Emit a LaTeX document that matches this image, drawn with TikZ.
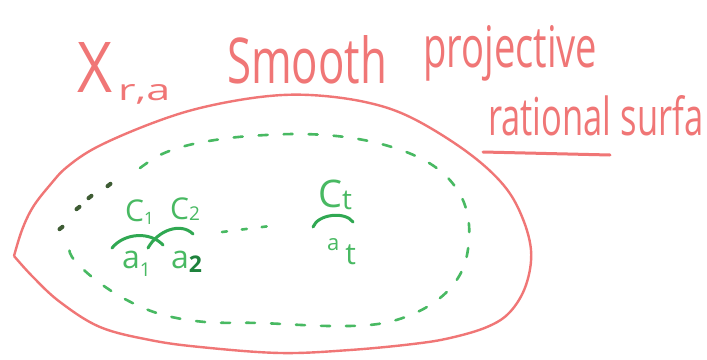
\documentclass[tikz,border=0pt]{standalone}
\usepackage{fontspec}
\usepackage{graphicx}
\setmainfont{Open Sans}
\definecolor{penred}{RGB}{240,118,118}
\definecolor{pengreen}{RGB}{72,185,98}
\definecolor{arcgreen}{RGB}{48,168,82}
\definecolor{darkdot}{RGB}{62,92,52}
\definecolor{darksub}{RGB}{30,130,60}
\newcommand{\hsub}[3]{\raisebox{#1}{\fontsize{#2}{#2}\selectfont #3}}
\begin{document}
\begin{tikzpicture}[x=1pt,y=-1pt,
  redtext/.style={text=penred,inner sep=0pt,anchor=base west},
  greentext/.style={text=pengreen,inner sep=0pt,anchor=base west},
  outline/.style={draw=penred,line width=2.4pt,line join=round},
  dashloop/.style={draw=pengreen,line width=2.6pt,dash pattern=on 9pt off 16pt,line cap=round},
  arcline/.style={draw=arcgreen,line width=3pt,line cap=round},
  dotmark/.style={draw=darkdot,line width=4pt,line cap=round},
  underl/.style={draw=penred,line width=3pt,line cap=round}]
\path[use as bounding box,fill=white] (0,0) rectangle (707,359);

% title texts
\node[redtext] (X) at (77,92) {\resizebox{35pt}{50pt}{X}};
\node[redtext] (ra) at (118,100) {\resizebox{52pt}{16pt}{r,a}};
\node[redtext] (smooth) at (227,83) {\resizebox{160pt}{48pt}{Smooth}};
\node[redtext] (proj) at (423,67) {\resizebox{174pt}{42pt}{projective}};
\node[redtext] (rat) at (488,135) {\resizebox{215pt}{40pt}{rational surfa}};
\coordinate (ul1) at (483,152);
\coordinate (ul2) at (610,155);
\draw[underl] (ul1) -- (ul2);

% outer surface
\draw[outline] plot[smooth,tension=0.6] coordinates {
 (14,256) (22,230) (33,207) (50,185) (67,167) (97,147) (150,124) (200,108)
 (260,97) (310,95) (365,102) (410,117) (463,149) (500,181) (520,212)
 (531,250) (526,285) (510,312) (487,327) (450,338) (413,344) (350,350)
 (280,353) (200,347) (150,340) (100,327) (60,302) (33,277) (14,256)};

% inner dashed curve
\draw[dashloop] plot[smooth,tension=0.6] coordinates {
 (140,168) (160,155) (185,146) (215,140) (250,136) (300,134) (345,137)
 (385,145) (420,158) (445,175) (462,198) (469,225) (467,255) (458,278)
 (440,298) (413,314) (378,324) (330,326) (260,323) (205,322) (160,314)
 (123,298) (92,277) (72,257) (69,245)};

% dark dots
\coordinate (p1) at (61,228);
\coordinate (p2) at (78,208);
\coordinate (p3) at (90,197);
\coordinate (p4) at (109,185);
\foreach \p in {p1,p2,p3,p4}
  \draw[dotmark] ([shift={(-1.5,1.2)}]\p) -- ([shift={(1.5,-1.2)}]\p);

% curves C1, C2, Ct
\coordinate (c1s) at (112,248);
\coordinate (c1e) at (163,245);
\draw[arcline] (c1s) .. controls (124,233) and (150,231) .. (c1e);
\coordinate (c2s) at (148,248);
\coordinate (c2e) at (193,234);
\draw[arcline] (c2s) .. controls (158,230) and (181,222) .. (c2e);
\coordinate (cts) at (313,227);
\coordinate (cte) at (353,222);
\draw[arcline] (cts) .. controls (318,214) and (345,211) .. (cte);

% dots between
\coordinate (d1) at (222,232);
\coordinate (d2) at (270,226);
\draw[draw=pengreen,line width=2.6pt,line cap=round,dash pattern=on 5pt off 15pt] (d1) -- (d2);

% labels
\node[greentext] (C1) at (125,221) {\fontsize{30}{30}\selectfont C\hsub{-3pt}{17}{1}};
\node[greentext] (C2) at (170,219) {\fontsize{30}{30}\selectfont C\hsub{-1pt}{19}{2}};
\node[greentext] (Ct) at (318,207) {\fontsize{38}{38}\selectfont C\hsub{-2pt}{28}{t}};
\node[greentext] (a1) at (122,268) {\fontsize{32}{32}\selectfont a\hsub{-8pt}{19}{1}};
\node[greentext] (a2) at (171,268) {\fontsize{32}{32}\selectfont a\hsub{-4pt}{23}{\textcolor{darksub}{\bfseries 2}}};
\node[greentext] (at) at (327,250) {\fontsize{22}{22}\selectfont a\hspace{6pt}\hsub{-14pt}{30}{t}};
\end{tikzpicture}
\end{document}
